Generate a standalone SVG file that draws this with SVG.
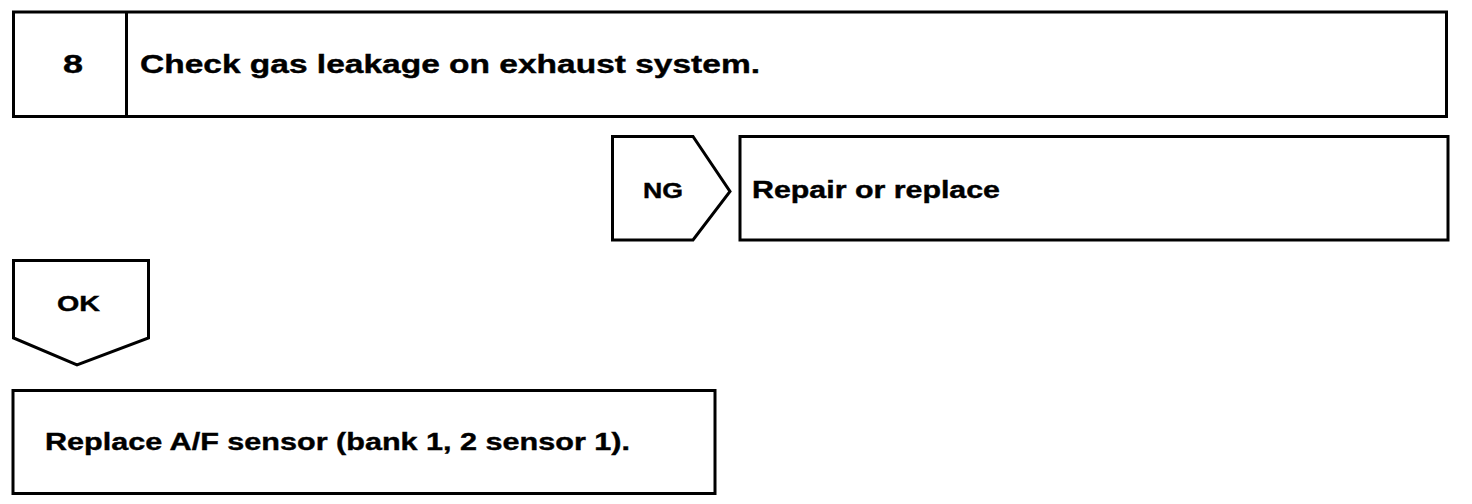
<svg xmlns="http://www.w3.org/2000/svg" width="1472" height="504" viewBox="0 0 1472 504">
<style>
.b{fill:#fff;stroke:#000;stroke-width:3;stroke-linejoin:miter}
.t{font-family:"Liberation Sans",Arial,Helvetica,sans-serif;font-weight:bold;fill:#000;stroke:#000;stroke-width:0.4}
</style>
<rect width="1472" height="504" fill="#fff"/>
<g id="step8">
<rect class="b" x="13.5" y="12" width="1433" height="104.5"/>
<line x1="126.5" y1="12" x2="126.5" y2="116.5" stroke="#000" stroke-width="3"/>
<text class="t" x="63" y="73" font-size="26" textLength="20" lengthAdjust="spacingAndGlyphs">8</text>
<text class="t" x="140" y="73" font-size="26" textLength="620" lengthAdjust="spacingAndGlyphs">Check gas leakage on exhaust system.</text>
</g>
<g id="connectors">
<g id="ng">
<polygon class="b" points="612.5,136.5 693,136.5 730,191.5 693,240 612.5,240"/>
<text class="t" x="643" y="198" font-size="22" textLength="40" lengthAdjust="spacingAndGlyphs">NG</text>
</g>
<g id="ok">
<polygon class="b" points="13.5,260.5 148.5,260.5 148.5,338 77,365 13.5,338"/>
<text class="t" x="57" y="311" font-size="22" textLength="43" lengthAdjust="spacingAndGlyphs">OK</text>
</g>
</g>
<g id="repair">
<rect class="b" x="740" y="136.5" width="708" height="103.5"/>
<text class="t" x="752" y="198" font-size="23" textLength="248" lengthAdjust="spacingAndGlyphs">Repair or replace</text>
</g>
<g id="replace">
<rect class="b" x="13" y="390.5" width="702" height="103"/>
<text class="t" x="45" y="450" font-size="24" textLength="585" lengthAdjust="spacingAndGlyphs">Replace A/F sensor (bank 1, 2 sensor 1).</text>
</g>
</svg>
